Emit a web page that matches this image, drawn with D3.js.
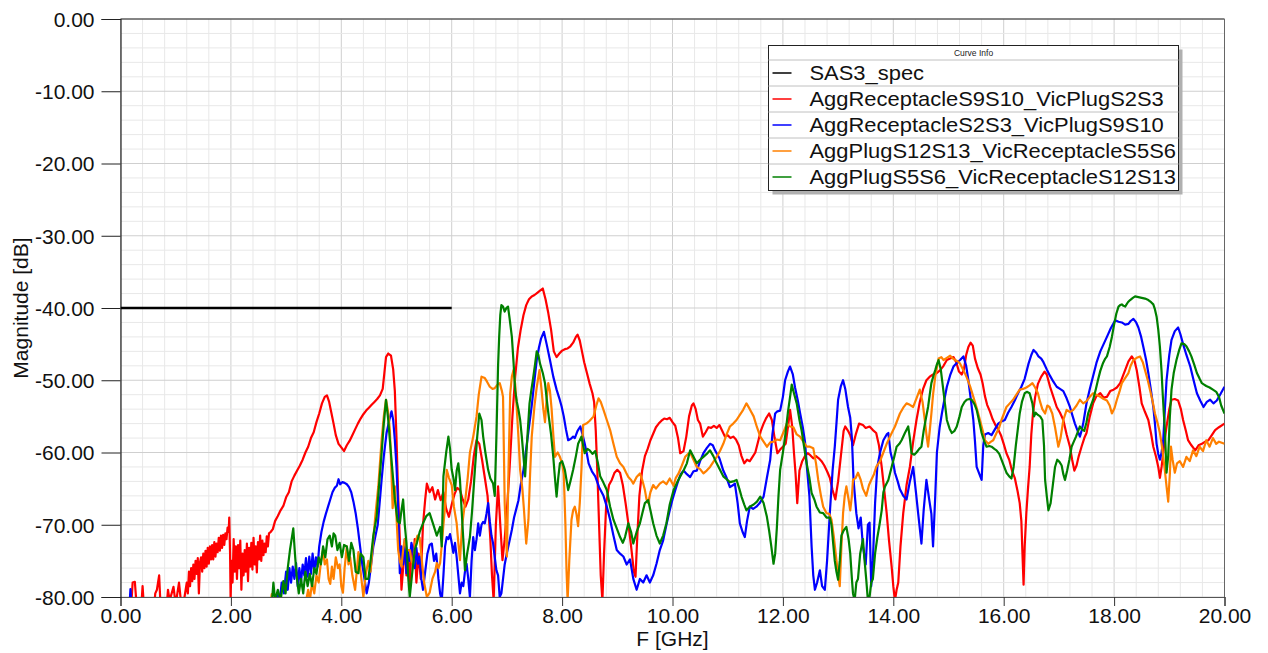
<!DOCTYPE html>
<html><head><meta charset="utf-8">
<script src="https://cdn.jsdelivr.net/npm/d3@7"></script>
<style>body{margin:0;background:#fff}svg{display:block;font-family:"Liberation Sans",Arial,sans-serif}</style>
</head><body><svg id="c" width="1268" height="653"></svg>
<script>
const xTicks = [0,2,4,6,8,10,12,14,16,18,20];
const yTicks = [0,-10,-20,-30,-40,-50,-60,-70,-80];
const seriesNames = ["SAS3_spec","AggReceptacleS9S10_VicPlugS2S3","AggReceptacleS2S3_VicPlugS9S10","AggPlugS12S13_VicReceptacleS5S6","AggPlugS5S6_VicReceptacleS12S13"];
const seriesColors = ["#000000","#ff0000","#0000ff","#ff8000","#008000"];

const specData = [[0,-40],[6,-40]];

const redData = [[0.18,-83],[0.22,-78],[0.26,-77.9],[0.3,-82],[0.38,-81],[0.4,-78.5],[0.43,-82],[0.6,-82],[0.63,-79.5],[0.66,-79],[0.7,-77],[0.73,-82],[0.84,-81],[0.86,-79],[0.89,-80.5],[0.96,-78.6],[1.0,-81],[1.06,-78],[1.1,-81],[1.16,-80],[1.2,-78],[1.22,-79.5],[1.24,-76.5],[1.26,-78.5],[1.28,-76],[1.3,-77.8],[1.32,-75.5],[1.34,-77.5],[1.36,-75],[1.38,-76.8],[1.4,-74.6],[1.42,-79.5],[1.44,-75.2],[1.46,-74.5],[1.48,-76.5],[1.5,-74],[1.52,-76],[1.54,-73.6],[1.56,-75.8],[1.58,-73.2],[1.6,-75.4],[1.62,-73],[1.64,-74.8],[1.66,-72.8],[1.68,-74.8],[1.7,-72.4],[1.72,-74.4],[1.74,-72.6],[1.76,-73.8],[1.78,-71.8],[1.8,-73.6],[1.82,-71.5],[1.84,-73.2],[1.86,-71.4],[1.88,-72.8],[1.9,-71.2],[1.92,-72],[1.94,-70.4],[1.96,-71],[1.97,-69],[1.985,-74],[1.995,-80.5],[2.01,-75],[2.03,-78],[2.05,-72],[2.07,-76.5],[2.09,-73],[2.11,-77.5],[2.13,-72.8],[2.15,-76],[2.17,-72.2],[2.19,-79],[2.21,-74],[2.23,-77],[2.25,-73.5],[2.27,-76.5],[2.29,-72.6],[2.31,-77.8],[2.33,-73.2],[2.35,-75.8],[2.37,-72.5],[2.39,-76.2],[2.41,-71.8],[2.43,-75.5],[2.45,-73],[2.47,-76.6],[2.49,-72.4],[2.51,-74.8],[2.53,-71.5],[2.55,-75],[2.57,-72.2],[2.59,-74.2],[2.61,-72.6],[2.63,-73.8],[2.65,-71.6],[2.67,-73],[2.69,-71.2],[2.72,-71],[2.76,-70.6],[2.8,-69.5],[2.85,-68.8],[2.9,-68],[2.95,-67.4],[3.0,-66.2],[3.05,-65.5],[3.1,-64],[3.15,-63.2],[3.2,-62.5],[3.25,-61.8],[3.3,-61],[3.35,-60],[3.4,-59.2],[3.45,-58],[3.5,-57.2],[3.55,-55.8],[3.6,-54.6],[3.65,-53.2],[3.7,-52.3],[3.74,-52.1],[3.78,-53],[3.82,-54.5],[3.86,-56],[3.9,-57.6],[3.95,-58.8],[4.0,-59.3],[4.05,-59.8],[4.1,-59],[4.15,-58.4],[4.2,-57.6],[4.25,-56.8],[4.3,-56],[4.35,-55.3],[4.4,-54.7],[4.45,-54.2],[4.5,-53.8],[4.55,-53.4],[4.6,-53],[4.65,-52.6],[4.7,-52.1],[4.75,-51.2],[4.78,-49],[4.81,-46.8],[4.85,-46.3],[4.9,-46.6],[4.94,-48.5],[4.97,-51.5],[5.0,-58],[5.03,-66],[5.06,-72],[5.09,-79],[5.12,-76],[5.15,-72.5],[5.18,-77],[5.21,-74],[5.24,-79],[5.27,-73],[5.3,-75.5],[5.33,-72],[5.36,-78],[5.4,-74],[5.44,-77.5],[5.48,-70],[5.52,-66.5],[5.55,-64.3],[5.6,-65.5],[5.65,-64.8],[5.7,-66.5],[5.75,-65.2],[5.8,-66.6],[5.85,-65.5],[5.9,-67.8],[5.95,-68.9],[6.0,-67.2],[6.05,-65.8],[6.1,-64.9],[6.15,-65.2],[6.2,-66.5],[6.25,-67.5],[6.3,-66.5],[6.35,-64],[6.4,-60.5],[6.45,-58.3],[6.5,-58.8],[6.55,-61],[6.6,-63.5],[6.65,-66],[6.7,-72],[6.73,-77],[6.76,-80.5],[6.8,-70],[6.84,-64.7],[6.88,-70],[6.92,-74.9],[6.96,-72],[7.0,-68],[7.05,-62],[7.1,-55],[7.15,-49.5],[7.2,-45.5],[7.25,-43],[7.3,-41],[7.35,-39.6],[7.4,-38.8],[7.45,-38.4],[7.5,-38.2],[7.55,-37.9],[7.6,-37.6],[7.65,-37.3],[7.7,-38.8],[7.75,-40.7],[7.8,-43],[7.85,-46],[7.9,-46.8],[7.95,-46.3],[8.0,-45.9],[8.05,-45.7],[8.1,-45.6],[8.15,-45.3],[8.2,-44.8],[8.25,-44],[8.28,-43.7],[8.32,-44.5],[8.36,-46],[8.4,-47.5],[8.45,-49],[8.5,-50.5],[8.55,-51.8],[8.58,-53],[8.61,-57],[8.64,-63],[8.67,-70],[8.7,-77],[8.73,-80.5],[8.76,-74],[8.8,-67],[8.85,-64.5],[8.9,-63.8],[8.95,-62.8],[9.0,-62.4],[9.05,-62.8],[9.1,-64.5],[9.15,-67],[9.2,-69.8],[9.25,-73],[9.3,-76.5],[9.33,-77.2],[9.36,-72],[9.4,-66],[9.45,-62.5],[9.5,-60.5],[9.55,-59.5],[9.6,-58.3],[9.65,-57.4],[9.7,-56.5],[9.75,-56],[9.8,-55.6],[9.85,-55.3],[9.9,-55.4],[9.95,-55.2],[10.0,-55.8],[10.05,-56.3],[10.1,-58],[10.14,-60.1],[10.2,-59.8],[10.25,-57.8],[10.3,-55],[10.35,-53.5],[10.38,-53.2],[10.42,-54],[10.46,-55.5],[10.5,-56],[10.55,-57.8],[10.6,-57.2],[10.65,-56.5],[10.7,-56.6],[10.75,-56.3],[10.8,-56.6],[10.85,-56.2],[10.9,-57],[10.95,-57.8],[11.0,-57.6],[11.05,-58],[11.1,-57.8],[11.15,-58.2],[11.2,-59],[11.25,-60.5],[11.3,-61.5],[11.35,-61],[11.4,-61.2],[11.45,-60.6],[11.5,-60],[11.55,-58.5],[11.6,-57],[11.65,-56],[11.7,-55.2],[11.75,-54.6],[11.8,-55.5],[11.85,-58],[11.9,-60.1],[11.95,-59.6],[12.0,-59.2],[12.05,-58.8],[12.1,-56],[12.13,-54.1],[12.17,-56.5],[12.2,-60],[12.23,-63],[12.26,-67],[12.3,-62.5],[12.35,-61.2],[12.4,-60.5],[12.45,-60.1],[12.5,-60.4],[12.55,-60.8],[12.6,-60.5],[12.65,-60.8],[12.7,-61.2],[12.75,-61.8],[12.8,-62.6],[12.85,-63.5],[12.9,-65.2],[12.95,-66.5],[13.0,-64],[13.05,-60.5],[13.1,-57],[13.13,-56.4],[13.18,-57],[13.22,-57.6],[13.27,-59],[13.32,-57.5],[13.38,-56],[13.45,-56.2],[13.5,-56.6],[13.57,-56.4],[13.63,-56.9],[13.69,-57.3],[13.74,-59],[13.79,-62],[13.84,-65.5],[13.88,-68.4],[13.92,-72],[13.97,-75.8],[14.0,-78.5],[14.03,-80.5],[14.06,-79],[14.09,-78],[14.13,-73],[14.18,-68.4],[14.24,-64.5],[14.3,-62],[14.36,-58.5],[14.42,-55.5],[14.48,-53],[14.54,-51.2],[14.6,-50],[14.66,-49.5],[14.72,-49.2],[14.79,-49],[14.85,-48.6],[14.91,-48],[14.97,-47.2],[15.03,-47],[15.09,-46.8],[15.14,-47.5],[15.19,-48.8],[15.24,-49.2],[15.28,-48.5],[15.32,-46.5],[15.36,-45.4],[15.4,-44.8],[15.44,-45.2],[15.48,-47],[15.53,-48.3],[15.58,-49.2],[15.62,-50.5],[15.66,-52.2],[15.7,-53.4],[15.75,-54.3],[15.8,-55.4],[15.85,-56.2],[15.9,-56.8],[15.95,-57.6],[16.0,-58.8],[16.05,-60.1],[16.1,-61],[16.15,-62.5],[16.2,-63.5],[16.25,-65.3],[16.29,-67],[16.32,-69.5],[16.34,-74],[16.36,-78.3],[16.38,-73],[16.41,-68.4],[16.44,-65],[16.47,-62],[16.5,-57.5],[16.53,-54.6],[16.57,-52.3],[16.62,-50.5],[16.68,-49.5],[16.74,-48.8],[16.78,-49.2],[16.84,-50.9],[16.9,-52.3],[16.96,-53.7],[17.02,-54.5],[17.08,-55.5],[17.14,-57.5],[17.2,-59.2],[17.24,-61],[17.28,-62.5],[17.32,-61.8],[17.36,-60.5],[17.41,-59.2],[17.46,-58],[17.5,-57.3],[17.56,-55],[17.62,-53.2],[17.68,-52.2],[17.75,-51.8],[17.81,-52.4],[17.87,-52.3],[17.93,-51.5],[17.99,-51.3],[18.05,-51],[18.11,-50.4],[18.16,-49.4],[18.2,-48.6],[18.26,-47.4],[18.32,-46.7],[18.37,-47.3],[18.41,-48.6],[18.46,-51],[18.5,-53.2],[18.56,-54.4],[18.62,-55.5],[18.67,-57.4],[18.71,-59.2],[18.76,-60.6],[18.8,-62],[18.83,-63.5],[18.86,-62],[18.89,-60.1],[18.92,-58],[18.95,-56.4],[19.0,-54],[19.04,-52.7],[19.1,-52.6],[19.16,-52.8],[19.21,-54],[19.25,-55.5],[19.3,-57],[19.34,-58.3],[19.4,-59],[19.47,-59.7],[19.53,-59],[19.59,-58.8],[19.65,-58.5],[19.71,-58.3],[19.77,-57.6],[19.83,-56.9],[19.9,-56.5],[20.0,-56]];

const blueData = [[0.15,-83],[0.18,-78.9],[0.21,-83],[2.8,-82],[2.85,-79.5],[2.88,-81],[2.92,-78],[2.96,-79.5],[3.0,-76.5],[3.03,-79],[3.06,-76],[3.09,-78],[3.12,-75.8],[3.15,-77.5],[3.18,-75.3],[3.21,-78.5],[3.24,-76],[3.27,-78],[3.3,-75.5],[3.33,-77],[3.36,-74.6],[3.39,-77.2],[3.42,-74.4],[3.45,-76.8],[3.48,-74],[3.51,-76.5],[3.54,-74.5],[3.57,-75.8],[3.6,-73],[3.64,-71],[3.68,-69.6],[3.72,-68.5],[3.76,-67.5],[3.8,-66.5],[3.84,-65.5],[3.88,-64.9],[3.92,-64.6],[3.95,-63.7],[3.98,-64.4],[4.02,-64.1],[4.06,-64.2],[4.1,-64.4],[4.14,-64.8],[4.18,-65.5],[4.22,-66.8],[4.26,-68.4],[4.3,-70.5],[4.34,-73],[4.38,-75.5],[4.42,-77.5],[4.46,-79.5],[4.5,-78],[4.54,-75.5],[4.58,-73],[4.62,-71.5],[4.66,-70],[4.7,-66.5],[4.73,-63.8],[4.77,-60.5],[4.82,-57.3],[4.87,-55.5],[4.91,-54.3],[4.94,-55.5],[4.97,-58.3],[5.0,-62],[5.03,-67.5],[5.06,-76.7],[5.09,-73],[5.12,-75.5],[5.15,-72],[5.18,-76.7],[5.21,-73.8],[5.24,-75],[5.27,-72.5],[5.3,-73.5],[5.33,-76],[5.36,-73.2],[5.39,-75.4],[5.42,-74.4],[5.45,-77.5],[5.48,-79],[5.52,-76.5],[5.56,-74],[5.6,-72.8],[5.64,-72.6],[5.68,-75],[5.72,-74],[5.76,-77.5],[5.79,-79.5],[5.82,-80.5],[5.85,-77],[5.88,-73],[5.91,-71.7],[5.94,-72],[5.97,-71.3],[6.0,-72.5],[6.03,-73.9],[6.06,-72.5],[6.09,-74.5],[6.12,-77],[6.15,-79.5],[6.18,-78],[6.21,-78.5],[6.24,-76.5],[6.27,-75.4],[6.3,-77.5],[6.33,-80],[6.36,-75],[6.39,-71.7],[6.42,-73.5],[6.45,-72],[6.48,-69.8],[6.51,-71.5],[6.54,-70],[6.57,-69.6],[6.6,-69.8],[6.63,-68.5],[6.66,-67],[6.69,-69.5],[6.72,-71.5],[6.75,-72.6],[6.78,-74.5],[6.81,-76.3],[6.84,-77],[6.87,-80],[6.9,-79.5],[6.93,-77.5],[6.96,-75.5],[7.0,-73.9],[7.04,-72.5],[7.09,-70.7],[7.13,-69],[7.17,-67.8],[7.21,-66.6],[7.25,-64.5],[7.3,-62.4],[7.35,-59.5],[7.4,-56.5],[7.45,-53.5],[7.5,-50],[7.54,-47.2],[7.58,-45.5],[7.62,-44.2],[7.67,-43.3],[7.72,-45],[7.78,-47.2],[7.84,-49.5],[7.9,-51.3],[7.95,-52.5],[7.99,-53.6],[8.03,-55],[8.07,-56.8],[8.11,-58.3],[8.16,-58.1],[8.2,-57.8],[8.23,-58],[8.28,-57],[8.33,-56.4],[8.37,-57.5],[8.41,-58.8],[8.45,-60.2],[8.48,-61.5],[8.54,-62.6],[8.6,-63.3],[8.67,-64.8],[8.75,-66],[8.81,-67.5],[8.87,-69.3],[8.93,-71.5],[8.99,-73.5],[9.05,-74],[9.11,-74.4],[9.17,-75.5],[9.23,-74.8],[9.29,-77.5],[9.35,-79],[9.41,-77.5],[9.47,-78],[9.53,-77],[9.59,-78],[9.65,-77],[9.71,-75.4],[9.77,-73.5],[9.83,-72.2],[9.89,-70],[9.95,-68],[10.0,-66.5],[10.05,-65.2],[10.1,-64],[10.15,-63],[10.2,-62.5],[10.26,-63],[10.32,-63.4],[10.38,-62.6],[10.44,-62.5],[10.5,-61.2],[10.56,-60.1],[10.62,-59.4],[10.68,-58.8],[10.73,-59],[10.77,-59.7],[10.85,-60.8],[10.92,-62.5],[10.98,-63.5],[11.04,-64.8],[11.1,-64.5],[11.13,-64.3],[11.18,-67],[11.22,-69.8],[11.27,-71],[11.31,-71.7],[11.35,-69.5],[11.4,-67.5],[11.46,-67.8],[11.52,-67.5],[11.58,-67],[11.65,-66.1],[11.71,-63.5],[11.77,-61],[11.81,-57.5],[11.86,-54.6],[11.9,-54.3],[11.95,-54.2],[12.0,-52.3],[12.04,-50],[12.09,-48.8],[12.13,-48.1],[12.18,-49.2],[12.22,-51],[12.27,-52.8],[12.31,-54.5],[12.36,-56.5],[12.4,-58.5],[12.44,-62.5],[12.48,-66],[12.52,-73],[12.55,-77],[12.58,-79],[12.62,-78],[12.67,-76.3],[12.71,-78.5],[12.76,-79],[12.8,-75],[12.85,-68.4],[12.9,-62.5],[12.94,-59.2],[12.97,-56],[13.0,-52.7],[13.05,-50.8],[13.09,-50],[13.13,-51.2],[13.18,-53.7],[13.22,-55.2],[13.25,-58],[13.28,-63.8],[13.33,-68.4],[13.37,-70.5],[13.41,-69],[13.45,-73],[13.5,-75.5],[13.54,-70],[13.57,-69.7],[13.6,-78.5],[13.63,-75],[13.67,-67],[13.71,-62],[13.76,-60],[13.82,-58.3],[13.88,-57.5],[13.91,-57.3],[13.95,-60],[14.0,-61.5],[14.03,-62.8],[14.08,-64],[14.12,-65.1],[14.18,-66],[14.24,-66.5],[14.3,-64],[14.36,-62],[14.41,-65.5],[14.45,-68.4],[14.51,-72.6],[14.55,-68],[14.6,-63.8],[14.65,-66.5],[14.69,-68.5],[14.72,-73],[14.76,-66],[14.79,-60],[14.84,-56.5],[14.88,-54.6],[14.93,-52.5],[14.97,-50.9],[15.03,-49.3],[15.09,-48.1],[15.15,-47.6],[15.21,-47.2],[15.27,-46.7],[15.32,-48],[15.36,-50],[15.41,-53],[15.45,-55.5],[15.48,-58.5],[15.51,-62],[15.56,-63],[15.6,-63.8],[15.63,-59],[15.66,-57.5],[15.72,-57.3],[15.78,-57.6],[15.84,-56.8],[15.9,-56],[15.96,-55.7],[16.02,-55.5],[16.08,-54.5],[16.14,-53.7],[16.2,-52.8],[16.26,-51.8],[16.32,-50.9],[16.38,-49.8],[16.45,-47.7],[16.5,-46.5],[16.54,-45.8],[16.59,-46.2],[16.63,-46.7],[16.68,-47],[16.72,-47.5],[16.78,-48.5],[16.84,-49.4],[16.9,-50.2],[16.96,-50.9],[17.02,-51.2],[17.08,-51.5],[17.14,-52.5],[17.2,-53.7],[17.25,-55],[17.29,-56],[17.34,-57],[17.38,-57.8],[17.41,-57],[17.44,-56],[17.47,-54.6],[17.5,-53.2],[17.56,-51.2],[17.62,-49.4],[17.68,-47.6],[17.75,-46],[17.81,-45],[17.87,-44],[17.94,-42.8],[18.02,-41.7],[18.08,-41.9],[18.14,-42],[18.2,-42.3],[18.26,-42.2],[18.3,-41.8],[18.35,-41.5],[18.4,-42],[18.44,-42.7],[18.49,-44],[18.53,-45.4],[18.58,-47.2],[18.62,-49],[18.67,-51.5],[18.71,-53.7],[18.74,-56],[18.77,-58.8],[18.8,-60.2],[18.83,-61],[18.86,-60],[18.89,-58.3],[18.92,-54],[18.95,-50],[19.0,-46.5],[19.04,-44.4],[19.1,-43.2],[19.16,-42.7],[19.2,-43.6],[19.25,-45],[19.31,-46.5],[19.38,-48.1],[19.44,-50],[19.5,-51.8],[19.56,-52.8],[19.62,-53.7],[19.68,-53],[19.74,-52.7],[19.8,-53.2],[19.86,-52.8],[19.92,-52],[20.0,-50.9]];

const orangeData = [[2.7,-82],[2.74,-79.6],[2.77,-82],[3.35,-81],[3.4,-79],[3.43,-80.5],[3.47,-78],[3.51,-79.5],[3.55,-77],[3.59,-78],[3.63,-75.2],[3.67,-73.5],[3.7,-75.5],[3.74,-74.8],[3.77,-77.5],[3.8,-78.2],[3.83,-75.8],[3.86,-77.5],[3.9,-74.5],[3.94,-76],[3.97,-75.5],[4.0,-78.5],[4.03,-79.4],[4.06,-76],[4.1,-73],[4.13,-75.5],[4.16,-74.5],[4.2,-77],[4.25,-79],[4.28,-76.5],[4.31,-73.8],[4.35,-76.5],[4.4,-80],[4.44,-77],[4.49,-75],[4.53,-76.5],[4.58,-72],[4.62,-68.5],[4.67,-64.7],[4.7,-61.5],[4.73,-58.3],[4.77,-55],[4.81,-52.7],[4.85,-54.5],[4.88,-56.9],[4.91,-63],[4.93,-67.7],[4.97,-64.7],[5.0,-69],[5.03,-73.5],[5.06,-75],[5.09,-75.8],[5.12,-73.5],[5.15,-72],[5.19,-73.5],[5.24,-73.5],[5.27,-75],[5.3,-75.5],[5.34,-72.5],[5.38,-71.5],[5.42,-71.8],[5.46,-75],[5.5,-78],[5.55,-80],[5.6,-79.4],[5.65,-77.5],[5.7,-76.5],[5.73,-75.3],[5.76,-76],[5.79,-75.3],[5.82,-72.8],[5.85,-70],[5.88,-67.5],[5.91,-62.4],[5.95,-63.5],[6.0,-64.5],[6.04,-67.5],[6.09,-69.8],[6.12,-72.5],[6.15,-74.9],[6.19,-70],[6.24,-67],[6.29,-63.5],[6.33,-60],[6.39,-57.8],[6.45,-55],[6.49,-52],[6.54,-49.5],[6.6,-49.7],[6.64,-50.2],[6.69,-50.9],[6.74,-51.2],[6.78,-51.1],[6.83,-50.6],[6.87,-50.4],[6.91,-51.5],[6.93,-52.3],[6.96,-67],[7.0,-74.4],[7.03,-62],[7.06,-51.8],[7.09,-49.5],[7.12,-48.6],[7.15,-50.5],[7.18,-54.1],[7.21,-58],[7.24,-62.4],[7.28,-65],[7.31,-68],[7.35,-72.6],[7.39,-69.3],[7.42,-63],[7.45,-57.8],[7.5,-53.5],[7.54,-51],[7.59,-48.6],[7.63,-51.5],[7.66,-54],[7.69,-55.8],[7.72,-52.5],[7.75,-50.4],[7.78,-51.5],[7.81,-54],[7.84,-57.5],[7.87,-60.6],[7.92,-60],[7.96,-60.6],[8.0,-61.5],[8.03,-63],[8.06,-70],[8.08,-76.3],[8.1,-80.5],[8.13,-75],[8.17,-69.3],[8.2,-68],[8.23,-67.5],[8.26,-68.5],[8.29,-70.2],[8.32,-67],[8.35,-62.4],[8.38,-56.2],[8.44,-56],[8.5,-55.6],[8.57,-55],[8.62,-53.5],[8.66,-52.5],[8.7,-53],[8.75,-54.1],[8.81,-55.5],[8.87,-56.9],[8.93,-58.8],[8.99,-60.6],[9.05,-61.5],[9.11,-62],[9.16,-62.8],[9.2,-63.4],[9.25,-63.8],[9.29,-64.3],[9.35,-63.4],[9.41,-62.9],[9.46,-64],[9.5,-65.2],[9.53,-66.5],[9.56,-67],[9.6,-65.5],[9.65,-64.5],[9.7,-65],[9.77,-64.3],[9.83,-64],[9.89,-64.4],[9.95,-63.6],[10.02,-64.6],[10.06,-63.5],[10.11,-62.9],[10.17,-61.8],[10.23,-60.6],[10.28,-60.2],[10.32,-60],[10.38,-61],[10.44,-62],[10.5,-62.3],[10.56,-62.9],[10.62,-62.5],[10.68,-62],[10.74,-61.3],[10.8,-60.6],[10.86,-59.8],[10.92,-58.8],[10.98,-57.5],[11.04,-56.4],[11.1,-56],[11.16,-55.5],[11.22,-54.8],[11.28,-54.1],[11.34,-53.2],[11.4,-54],[11.47,-55],[11.53,-56.5],[11.59,-57.8],[11.65,-58.5],[11.71,-59.2],[11.77,-58.6],[11.83,-58.5],[11.89,-58.2],[11.95,-58.3],[12.01,-57.2],[12.07,-56],[12.13,-56.4],[12.19,-56.5],[12.25,-57.5],[12.31,-57.8],[12.37,-58.5],[12.43,-59.2],[12.49,-59.2],[12.55,-59.4],[12.6,-61.5],[12.64,-63.8],[12.69,-66],[12.73,-67.5],[12.79,-68.4],[12.84,-68.5],[12.88,-69.3],[12.92,-71.5],[12.97,-74.9],[13.0,-77],[13.03,-78.5],[13.06,-73],[13.09,-68.4],[13.12,-66],[13.15,-64.7],[13.19,-66.5],[13.22,-68],[13.25,-66],[13.27,-63.8],[13.32,-63.5],[13.36,-62.8],[13.41,-63.8],[13.45,-65],[13.51,-66],[13.56,-64.5],[13.6,-63.8],[13.65,-63],[13.69,-62],[13.76,-61.2],[13.82,-60],[13.88,-58.8],[13.94,-57.8],[14.03,-56.4],[14.12,-54.6],[14.18,-53.8],[14.24,-53.2],[14.3,-53.4],[14.36,-53.7],[14.42,-52.5],[14.48,-51.3],[14.53,-53],[14.57,-55.5],[14.6,-57.5],[14.63,-59.2],[14.66,-57],[14.69,-54.6],[14.72,-52],[14.76,-49.5],[14.82,-47],[14.87,-46.8],[14.91,-47.2],[14.97,-46.9],[15.03,-46.6],[15.08,-47],[15.12,-47.2],[15.17,-47.4],[15.21,-47.7],[15.27,-48.6],[15.33,-49.6],[15.39,-50.8],[15.45,-52.3],[15.51,-53.8],[15.57,-55.5],[15.62,-57],[15.66,-58.3],[15.72,-58.8],[15.77,-58.5],[15.81,-58.3],[15.87,-57.3],[15.92,-56.5],[15.96,-55.5],[16.01,-54.5],[16.05,-53.7],[16.11,-53.2],[16.17,-52.7],[16.23,-52],[16.29,-51.3],[16.35,-51.2],[16.41,-51],[16.47,-50.7],[16.52,-50.4],[16.57,-51],[16.62,-51.8],[16.66,-53],[16.7,-54],[16.75,-54.6],[16.79,-53.5],[16.83,-53.7],[16.88,-54.6],[16.93,-56.5],[16.99,-59.2],[17.03,-58],[17.08,-55.5],[17.14,-54.1],[17.2,-54.4],[17.26,-54.1],[17.32,-53.5],[17.38,-52.7],[17.44,-53.2],[17.5,-52.9],[17.56,-52.3],[17.62,-51.8],[17.68,-52],[17.75,-52.3],[17.81,-52.6],[17.87,-52.8],[17.92,-53.5],[17.96,-54.6],[18.01,-53.8],[18.05,-52.7],[18.1,-51.5],[18.14,-50.4],[18.2,-49.7],[18.26,-49],[18.3,-48],[18.35,-47.2],[18.41,-46.9],[18.47,-46.7],[18.52,-47.5],[18.56,-48.6],[18.61,-50],[18.65,-51.3],[18.7,-53],[18.74,-54.6],[18.79,-56],[18.83,-57.3],[18.86,-58.8],[18.89,-60.6],[18.92,-62.5],[18.95,-64.7],[18.98,-66.8],[19.01,-63],[19.03,-59.2],[19.06,-61],[19.1,-62.8],[19.14,-61.5],[19.19,-61.2],[19.25,-62],[19.31,-60.6],[19.37,-61.2],[19.43,-59.7],[19.49,-60.5],[19.55,-59.2],[19.61,-59.8],[19.67,-58.3],[19.73,-59.2],[19.79,-58],[19.85,-58.8],[19.9,-58.5],[20.0,-58.8]];

const greenData = [[2.74,-81],[2.77,-78],[2.8,-80.5],[2.85,-79],[2.9,-80.5],[2.95,-77.8],[2.99,-79.5],[3.03,-76],[3.07,-73.5],[3.1,-72],[3.13,-70.5],[3.16,-74],[3.19,-77],[3.23,-79.5],[3.27,-77.5],[3.31,-79.5],[3.35,-76.5],[3.39,-78.5],[3.43,-76.8],[3.47,-78.5],[3.51,-76],[3.55,-76.8],[3.59,-74.5],[3.63,-75.5],[3.67,-73],[3.71,-74.5],[3.75,-72],[3.79,-71.5],[3.83,-73],[3.86,-71.2],[3.89,-71.5],[3.93,-73.5],[3.97,-72.5],[4.01,-74.5],[4.05,-72.8],[4.1,-73],[4.14,-75],[4.18,-72.5],[4.22,-73.5],[4.26,-76.5],[4.31,-76.7],[4.35,-74],[4.4,-74.5],[4.44,-77.5],[4.49,-77.5],[4.53,-75],[4.58,-71.5],[4.64,-68.9],[4.69,-64],[4.73,-60.1],[4.77,-56],[4.81,-52.7],[4.85,-55.5],[4.88,-58.3],[4.92,-62],[4.97,-66.5],[5.02,-69.5],[5.06,-69.8],[5.09,-68],[5.12,-66.5],[5.15,-70],[5.18,-72.5],[5.21,-77],[5.24,-80],[5.28,-77],[5.33,-73.5],[5.37,-72.5],[5.42,-71],[5.48,-69.8],[5.54,-68.8],[5.6,-68.4],[5.66,-69.8],[5.73,-71.5],[5.79,-70.3],[5.82,-73],[5.85,-63.3],[5.9,-60],[5.94,-57.8],[5.97,-59.5],[6.0,-62.4],[6.03,-63.5],[6.06,-65.2],[6.09,-62.5],[6.12,-61.5],[6.15,-63.8],[6.18,-68],[6.21,-72],[6.24,-76.3],[6.28,-74],[6.33,-71.7],[6.37,-68],[6.42,-62.4],[6.46,-58],[6.5,-54.6],[6.54,-55.5],[6.57,-57.8],[6.61,-60],[6.66,-62.4],[6.7,-63.6],[6.75,-64.3],[6.78,-66],[6.81,-57.8],[6.84,-48],[6.86,-44],[6.88,-41],[6.9,-39.6],[6.93,-39.8],[6.96,-40.5],[6.99,-40],[7.02,-39.8],[7.05,-41.5],[7.09,-44],[7.12,-47.5],[7.15,-51.4],[7.18,-53],[7.21,-54.1],[7.24,-55.5],[7.27,-57.8],[7.3,-60.5],[7.33,-63.3],[7.37,-58],[7.41,-53.2],[7.44,-51.5],[7.47,-50],[7.51,-47.8],[7.54,-46],[7.57,-46.5],[7.6,-47.7],[7.65,-49],[7.69,-50.4],[7.72,-52.5],[7.75,-54.5],[7.8,-57.5],[7.84,-60.6],[7.87,-63.5],[7.9,-66.1],[7.93,-63.5],[7.96,-61.5],[8.0,-61.2],[8.05,-62.4],[8.11,-65.2],[8.15,-64],[8.2,-62.4],[8.25,-60.5],[8.29,-58.8],[8.35,-57.8],[8.41,-60.1],[8.46,-59.5],[8.5,-59.7],[8.55,-60.2],[8.6,-59.8],[8.65,-61.5],[8.69,-63.3],[8.75,-64.2],[8.81,-65.2],[8.87,-67.5],[8.93,-69.3],[8.99,-70.5],[9.05,-71.7],[9.1,-72.5],[9.14,-71.7],[9.2,-69.8],[9.25,-71],[9.29,-72.6],[9.35,-71],[9.41,-69.8],[9.46,-68.2],[9.5,-67],[9.56,-66.6],[9.6,-68],[9.65,-69.8],[9.71,-71.5],[9.77,-72.6],[9.83,-71.5],[9.89,-69.8],[9.95,-67.2],[10.02,-65.2],[10.08,-64.2],[10.14,-63.3],[10.2,-62.5],[10.26,-61.5],[10.32,-59.7],[10.38,-60.6],[10.44,-61.5],[10.5,-61],[10.56,-60.6],[10.62,-60.2],[10.68,-59.7],[10.74,-60.5],[10.8,-61.5],[10.86,-62.4],[10.92,-63.3],[10.98,-63.7],[11.04,-64.1],[11.1,-64],[11.16,-63.8],[11.21,-65],[11.25,-66.1],[11.3,-67.2],[11.34,-68],[11.4,-67.5],[11.47,-67.2],[11.53,-66.8],[11.59,-66.1],[11.65,-67],[11.71,-68.9],[11.75,-70.8],[11.79,-73],[11.83,-75.4],[11.86,-74],[11.89,-70.5],[11.92,-66],[11.95,-62.4],[12.0,-60],[12.04,-57.8],[12.09,-54.5],[12.13,-52.3],[12.16,-50.6],[12.2,-51.8],[12.25,-53.2],[12.3,-55.5],[12.34,-57],[12.38,-59],[12.43,-61.5],[12.48,-63.5],[12.52,-65.6],[12.57,-66.5],[12.61,-67.5],[12.67,-68.3],[12.73,-68.4],[12.79,-69],[12.85,-69],[12.88,-70],[12.91,-72.5],[12.94,-75],[12.97,-76.5],[13.0,-77.6],[13.03,-75],[13.06,-71.5],[13.1,-70.8],[13.15,-70.3],[13.19,-72],[13.22,-74],[13.25,-77.5],[13.27,-79.5],[13.3,-80.5],[13.33,-78],[13.36,-77.5],[13.4,-74],[13.45,-72],[13.48,-75],[13.51,-77.6],[13.54,-80.5],[13.57,-80],[13.6,-78],[13.63,-77.5],[13.67,-74],[13.71,-71.8],[13.75,-70],[13.79,-68],[13.82,-65.5],[13.85,-64.7],[13.91,-63.8],[13.97,-62],[14.02,-60.5],[14.06,-59.2],[14.11,-58.8],[14.15,-58.3],[14.21,-57.3],[14.27,-56.4],[14.3,-58],[14.33,-60.1],[14.38,-60.3],[14.42,-60],[14.47,-59.5],[14.51,-59.2],[14.55,-57],[14.59,-55.3],[14.63,-53.7],[14.66,-52],[14.69,-50.4],[14.73,-49.3],[14.76,-48.6],[14.79,-47.8],[14.82,-47.2],[14.86,-48.5],[14.9,-51],[14.94,-53.5],[14.97,-55.5],[15.02,-56.7],[15.06,-57.3],[15.11,-57],[15.15,-56.4],[15.2,-55],[15.24,-53.7],[15.29,-53],[15.33,-52.7],[15.38,-52.6],[15.42,-52.7],[15.47,-53.3],[15.51,-54.1],[15.56,-55.8],[15.6,-57.3],[15.65,-58.5],[15.69,-59.2],[15.74,-59.1],[15.78,-59.2],[15.83,-59.5],[15.87,-59.7],[15.92,-60.2],[15.96,-61],[16.01,-62],[16.05,-62.8],[16.1,-63.3],[16.14,-63.6],[16.18,-62],[16.22,-59],[16.26,-56.5],[16.29,-54.6],[16.33,-53],[16.38,-51.8],[16.42,-51.6],[16.47,-51.8],[16.52,-53.2],[16.55,-55],[16.58,-54.5],[16.62,-54.8],[16.66,-55],[16.7,-55.5],[16.73,-59],[16.75,-63.8],[16.78,-66],[16.81,-68],[16.85,-67],[16.89,-64.5],[16.93,-62],[16.97,-61],[17.01,-61.3],[17.05,-61.8],[17.08,-63],[17.11,-63.8],[17.15,-62.5],[17.19,-61],[17.23,-59.2],[17.27,-58.5],[17.31,-57.8],[17.35,-57],[17.38,-56.4],[17.42,-56.8],[17.46,-57],[17.5,-55.8],[17.53,-54.6],[17.58,-53.5],[17.62,-52.7],[17.67,-51.2],[17.71,-49.9],[17.75,-48.7],[17.8,-47.6],[17.84,-47],[17.87,-46.7],[17.92,-45.4],[17.96,-44],[18.0,-42.3],[18.04,-40.8],[18.08,-39.8],[18.11,-39.6],[18.14,-39.5],[18.17,-39.7],[18.2,-39.8],[18.25,-39.2],[18.29,-38.9],[18.34,-38.6],[18.38,-38.4],[18.44,-38.5],[18.5,-38.6],[18.56,-38.7],[18.62,-38.9],[18.67,-39.2],[18.71,-39.5],[18.74,-40.2],[18.77,-41.2],[18.8,-43],[18.83,-45.4],[18.86,-48.8],[18.88,-51.8],[18.9,-54.5],[18.92,-56.9],[18.95,-62.8],[18.98,-60.5],[19.01,-55],[19.04,-51.3],[19.08,-49],[19.13,-47.2],[19.18,-45.8],[19.22,-44.9],[19.27,-45],[19.31,-45.3],[19.36,-46],[19.4,-46.7],[19.45,-47.8],[19.5,-49],[19.55,-49.8],[19.59,-50.4],[19.63,-50.6],[19.67,-50.8],[19.73,-51],[19.79,-51.3],[19.85,-51.6],[19.9,-52.3],[19.94,-53.5],[20.0,-54.6]];

const allSeries = [specData, redData, blueData, orangeData, greenData];

const svg = d3.select("#c");
const L = 120.5, R = 1224.5, T = 19, B = 597;
const x = d3.scaleLinear().domain([0,20]).range([L,R]);
const y = d3.scaleLinear().domain([-80,0]).range([B,T]);

// grid
const g = svg.append("g");
const minorX = d3.range(0, 20.001, 0.4);
const minorY = d3.range(-80, 0.001, 2);
g.selectAll(".vx").data(minorX).join("line")
  .attr("x1", d=>x(d)).attr("x2", d=>x(d)).attr("y1", T).attr("y2", B)
  .attr("stroke", d=> Math.abs(d/2 - Math.round(d/2))<1e-6 ? "#cfcfcf" : "#e8e8e8").attr("stroke-width",1);
g.selectAll(".hy").data(minorY).join("line")
  .attr("x1", L).attr("x2", R).attr("y1", d=>y(d)).attr("y2", d=>y(d))
  .attr("stroke", d=> Math.abs(d/10 - Math.round(d/10))<1e-6 ? "#cfcfcf" : "#e8e8e8").attr("stroke-width",1);

// frame
svg.append("line").attr("x1",L).attr("x2",R).attr("y1",T).attr("y2",T).attr("stroke","#222");
svg.append("line").attr("x1",R).attr("x2",R).attr("y1",T).attr("y2",B).attr("stroke","#666");

// axes
const xAxis = d3.axisBottom(x).tickValues(xTicks).tickSize(9).tickFormat(d=>d.toFixed(2));
const xMinor = d3.axisBottom(x).tickValues(minorX).tickSize(5).tickFormat("");
const yAxis = d3.axisLeft(y).tickValues(yTicks).tickSize(19).tickFormat(d=>d.toFixed(2));
const yMinor = d3.axisLeft(y).tickValues(minorY).tickSize(9).tickFormat("");

const gx = svg.append("g").attr("transform",`translate(0,${B})`);
gx.call(xMinor); gx.call(xAxis);
gx.selectAll("path").attr("stroke","#555");
gx.selectAll("line").attr("stroke","#333");
gx.selectAll("text").attr("font-size",21).attr("fill","#111").attr("dy","0.82em").attr("y",9);

const gy = svg.append("g").attr("transform",`translate(${L},0)`);
gy.call(yMinor); gy.call(yAxis);
gy.selectAll("path").attr("stroke","#222");
gy.selectAll("line").attr("stroke","#222");
gy.selectAll("text").attr("font-size",21).attr("fill","#111").attr("x",-26).attr("dy","0.35em");
svg.selectAll(".domain").attr("stroke-width",1.2);

svg.append("text").attr("x",(L+R)/2).attr("y",646).attr("text-anchor","middle").attr("font-size",21).attr("fill","#111").text("F [GHz]");
svg.append("text").attr("transform",`translate(28,${(T+B)/2}) rotate(-90)`).attr("text-anchor","middle").attr("font-size",21).attr("fill","#111").text("Magnitude [dB]");

// curves
svg.append("clipPath").attr("id","clip").append("rect").attr("x",L).attr("y",T-2).attr("width",R-L).attr("height",B-T+2);
const line = d3.line().x(d=>x(d[0])).y(d=>y(d[1]));
const cg = svg.append("g").attr("clip-path","url(#clip)");
allSeries.forEach((data,i)=>{
  cg.append("path").datum(data).attr("d",line).attr("fill","none")
    .attr("stroke",seriesColors[i]).attr("stroke-width", i===0?2.5:2.2).attr("stroke-linejoin","round");
});

// legend
const lx = 768.5, ly = 45.5, lw = 410, lh = 145, titleH = 14.5, rowH = 26;
const lg = svg.append("g");
lg.append("rect").attr("x",lx+4).attr("y",ly+4).attr("width",lw).attr("height",lh).attr("fill","#b0b0b0");
lg.append("rect").attr("x",lx).attr("y",ly).attr("width",lw).attr("height",lh).attr("fill","#fff").attr("stroke","#222");
lg.append("text").attr("x",lx+lw/2).attr("y",ly+10).attr("text-anchor","middle").attr("font-size",8.5).attr("fill","#222").text("Curve Info");
seriesNames.forEach((n,i)=>{
  const top = ly+titleH+i*rowH;
  lg.append("line").attr("x1",lx).attr("x2",lx+lw).attr("y1",top).attr("y2",top).attr("stroke","#c0c0c0");
  const cy = top+rowH/2;
  lg.append("line").attr("x1",lx+4).attr("x2",lx+23).attr("y1",cy).attr("y2",cy).attr("stroke",seriesColors[i]).attr("stroke-width",1.5);
  lg.append("text").attr("transform",`translate(${lx+41},${cy}) scale(1.07,1)`).attr("dy","0.36em").attr("font-size",20.5).attr("fill","#111").text(n);
});
</script></body></html>
